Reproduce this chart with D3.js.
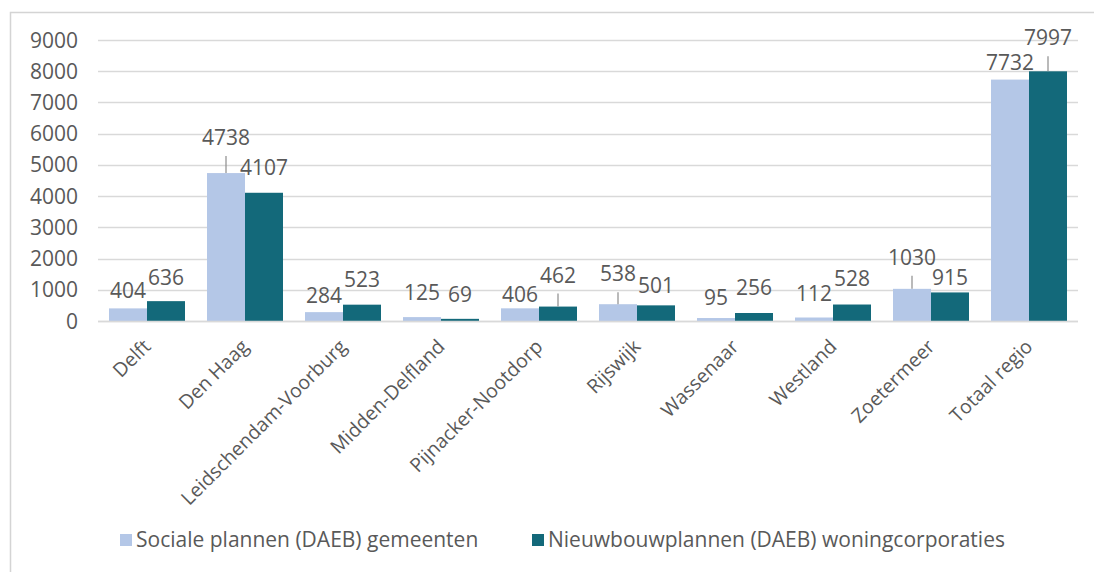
<!DOCTYPE html>
<html>
<head>
<meta charset="utf-8">
<script src="https://cdn.jsdelivr.net/npm/d3@7"></script>
<style>
  body { margin: 0; background: #fff; }
  svg text { font-family: "Open Sans", "Noto Sans", sans-serif; fill: #595959; }
</style>
</head>
<body>
<svg id="chart"></svg>
<script>
const size = {w: 1094, h: 572};
const plot = {l: 98, r: 1078, t: 40, b: 321};

// DATA
const categories = ['Delft', 'Den Haag', 'Leidschendam-Voorburg', 'Midden-Delfland',
    'Pijnacker-Nootdorp', 'Rijswijk', 'Wassenaar', 'Westland', 'Zoetermeer', 'Totaal regio'];
const sociaal = [404, 4738, 284, 125, 406, 538, 95, 112, 1030, 7732];
const nieuwbouw = [636, 4107, 523, 69, 462, 501, 256, 528, 915, 7997];
const seriesNames = ['Sociale plannen (DAEB) gemeenten', 'Nieuwbouwplannen (DAEB) woningcorporaties'];
const yTicks = [0, 1000, 2000, 3000, 4000, 5000, 6000, 7000, 8000, 9000];

// label lift above bar top (px), as placed by hand in the original
const liftA = [10, 28, 9, 17, 6, 23, 13, 17, 24, 10];
const liftB = [16, 18, 18, 17, 24, 12, 18, 19, 7, 26];

const colors = ['#b4c7e7', '#13697a'];

const svg = d3.select('svg#chart')
    .attr('width', size.w)
    .attr('height', size.h);

// frame
svg.append('path')
    .attr('d', `M10.5,${size.h} V12.5 H${size.w}`)
    .attr('fill', 'none')
    .attr('stroke', '#d4d4d4')
    .attr('stroke-width', 1.5);

//SCALES
const x = d3.scaleBand()
    .domain(categories)
    .range([plot.l, plot.r])
    .paddingInner(22 / 98)
    .paddingOuter(11 / 98);

const xSub = d3.scaleBand()
    .domain([0, 1])
    .range([0, x.bandwidth()]);

const y = d3.scaleLinear()
    .domain([0, 9000])
    .range([plot.b, plot.t]);

//GRIDLINES
svg.append('g')
    .selectAll('line')
    .data(yTicks)
    .join('line')
    .attr('x1', plot.l)
    .attr('x2', plot.r)
    .attr('y1', d => Math.round(y(d)) + 0.5)
    .attr('y2', d => Math.round(y(d)) + 0.5)
    .attr('stroke', '#d9d9d9')
    .attr('stroke-width', 1.5);

//Y AXIS LABELS
svg.append('g')
    .selectAll('text')
    .data(yTicks)
    .join('text')
    .attr('x', 78)
    .attr('y', d => y(d))
    .attr('dy', '0.36em')
    .attr('text-anchor', 'end')
    .style('font-size', '21px')
    .text(d => d);

//BARS
const series = [sociaal, nieuwbouw];
const lifts = [liftA, liftB];
const barG = svg.append('g');

series.forEach((vals, s) => {
    barG.append('g')
        .selectAll('rect')
        .data(vals)
        .join('rect')
        .attr('x', (d, i) => x(categories[i]) + xSub(s))
        .attr('y', d => y(d))
        .attr('width', xSub.bandwidth())
        .attr('height', d => y(0) - y(d))
        .attr('fill', colors[s]);
});

// x axis line
svg.append('line')
    .attr('x1', plot.l)
    .attr('x2', plot.r)
    .attr('y1', plot.b + 0.5)
    .attr('y2', plot.b + 0.5)
    .attr('stroke', '#d9d9d9')
    .attr('stroke-width', 1.5);

//VALUE LABELS + LEADER LINES
series.forEach((vals, s) => {
    const cx = i => x(categories[i]) + xSub(s) + xSub.bandwidth() / 2;
    const g = svg.append('g');

    g.selectAll('line')
        .data(vals.map((d, i) => ({d, i})).filter(o => lifts[s][o.i] > 20))
        .join('line')
        .attr('x1', o => cx(o.i))
        .attr('x2', o => cx(o.i))
        .attr('y1', o => y(o.d) - lifts[s][o.i] + 11)
        .attr('y2', o => y(o.d))
        .attr('stroke', '#8c8c8c')
        .attr('stroke-width', 1.2);

    g.selectAll('text')
        .data(vals)
        .join('text')
        .attr('x', (d, i) => cx(i))
        .attr('y', (d, i) => y(d) - lifts[s][i])
        .attr('text-anchor', 'middle')
        .style('font-size', '21px')
        .text(d => d);
});

//CATEGORY LABELS
svg.append('g')
    .selectAll('text')
    .data(categories)
    .join('text')
    .attr('transform', d => `translate(${x(d) + x.bandwidth() / 2}, 343) rotate(-45)`)
    .attr('text-anchor', 'end')
    .attr('dy', '0.35em')
    .style('font-size', '19.5px')
    .text(d => d);

//LEGEND
const legendX = [120, 532];
const legend = svg.append('g')
    .selectAll('g')
    .data(seriesNames)
    .join('g')
    .attr('transform', (d, i) => `translate(${legendX[i]}, 534)`);

legend.append('rect')
    .attr('width', 12)
    .attr('height', 12)
    .attr('fill', (d, i) => colors[i]);

legend.append('text')
    .attr('x', 16)
    .attr('y', 13)
    .style('font-size', '21px')
    .text(d => d);
</script>
</body>
</html>
